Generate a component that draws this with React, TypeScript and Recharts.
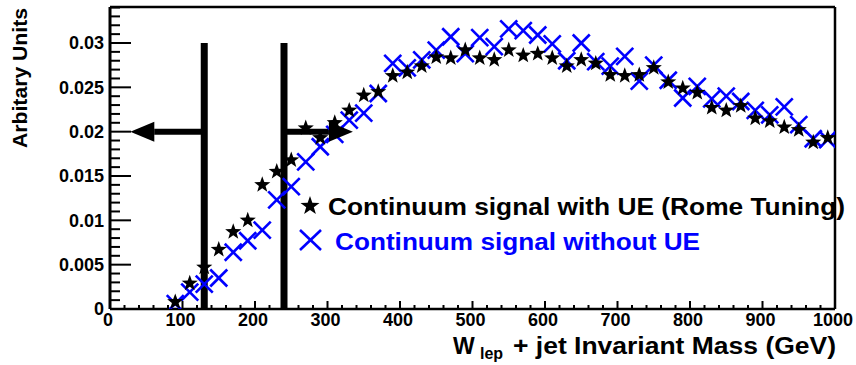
import React from 'react';
import { ScatterChart, Scatter, XAxis, YAxis, ReferenceLine, ReferenceDot, Legend } from 'recharts';

// Bin centres of the W_lep + jet invariant-mass histogram (GeV)
const masses = [
  90, 110, 130, 150, 170, 190, 210, 230, 250, 270, 290, 310, 330, 350, 370, 390,
  410, 430, 450, 470, 490, 510, 530, 550, 570, 590, 610, 630, 650, 670, 690, 710,
  730, 750, 770, 790, 810, 830, 850, 870, 890, 910, 930, 950, 970, 990,
];

// Normalised distribution, continuum signal with underlying event (Rome tuning)
const withUE = [
  0.0008, 0.0029, 0.0047, 0.0067, 0.0087, 0.0100, 0.0140, 0.0155, 0.0168, 0.0204,
  0.0193, 0.0210, 0.0224, 0.0241, 0.0245, 0.0263, 0.0267, 0.0274, 0.0284, 0.0283,
  0.0292, 0.0283, 0.0281, 0.0292, 0.0286, 0.0288, 0.0283, 0.0274, 0.0281, 0.0277,
  0.0264, 0.0263, 0.0264, 0.0272, 0.0256, 0.0249, 0.0244, 0.0227, 0.0224, 0.0229,
  0.0215, 0.0212, 0.0205, 0.0202, 0.0188, 0.0193,
];

// Normalised distribution, continuum signal without underlying event
const withoutUE = [
  0.0006, 0.0019, 0.0028, 0.0035, 0.0064, 0.0077, 0.0089, 0.0123, 0.0138, 0.0166,
  0.0183, 0.0197, 0.0213, 0.0221, 0.0243, 0.0277, 0.0272, 0.0281, 0.0292, 0.0307,
  0.0288, 0.0306, 0.0296, 0.0316, 0.0314, 0.0309, 0.0299, 0.0280, 0.0300, 0.0279,
  0.0274, 0.0285, 0.0257, 0.0275, 0.0258, 0.0238, 0.0251, 0.0237, 0.0240, 0.0234,
  0.0224, 0.0219, 0.0228, 0.0208, 0.0192, 0.0191,
];

const seriesNames = [
  'Continuum signal with UE (Rome Tuning)',
  'Continuum signal without UE',
];

// Axis ranges and tick positions
const X_MIN = 0;
const X_MAX = 1000;
const Y_MAX = 0.03406;
const xTicks = Array.from({ length: 51 }, (_, i) => i * 20);
const yTicks = Array.from({ length: 35 }, (_, i) => Number((i * 0.001).toFixed(3)));

// Mass-window cuts drawn as vertical bars with arrows
const cutLow = 130;
const cutHigh = 240;
const cutTop = 0.03;
const arrowLevel = 0.02;
const arrowLeftTip = 28;
const arrowLeftBase = 61;
const arrowRightTip = 335;
const arrowRightBase = 302;

const FONT = '"Liberation Sans", Arial, Helvetica, sans-serif';
const BLUE = '#0000ff';

const withUEData = masses.map((m, i) => ({ mass: m, value: withUE[i] }));
const withoutUEData = masses.map((m, i) => ({ mass: m, value: withoutUE[i] }));

const starPoints = (cx: number, cy: number, R: number, r: number) => {
  const pts: string[] = [];
  for (let i = 0; i < 10; i++) {
    const a = -Math.PI / 2 + (i * Math.PI) / 5;
    const rad = i % 2 === 0 ? R : r;
    pts.push(`${(cx + rad * Math.cos(a)).toFixed(2)},${(cy + rad * Math.sin(a)).toFixed(2)}`);
  }
  return pts.join(' ');
};

const StarShape = (props: any) => {
  const { cx, cy } = props;
  if (cx == null || cy == null) return null;
  return <polygon points={starPoints(cx, cy, 8.5, 3.5)} fill="#000" />;
};

const CrossShape = (props: any) => {
  const { cx, cy } = props;
  if (cx == null || cy == null) return null;
  const h = 8.5;
  return (
    <g stroke={BLUE} strokeWidth={2.6}>
      <line x1={cx - h} y1={cy - h} x2={cx + h} y2={cy + h} />
      <line x1={cx - h} y1={cy + h} x2={cx + h} y2={cy - h} />
    </g>
  );
};

const XTick = (props: any) => {
  const { x, y, payload } = props;
  const v = payload.value;
  const major = v % 100 === 0;
  return (
    <g>
      <line x1={x} x2={x} y1={y} y2={y - (major ? 8 : 4)} stroke="#000" strokeWidth={2} />
      {major && (
        <text
          x={x - 2}
          y={y + 17}
          textAnchor="middle"
          fontFamily={FONT}
          fontWeight="bold"
          fontSize={18}
          fill="#000"
        >
          {v}
        </text>
      )}
    </g>
  );
};

const YTick = (props: any) => {
  const { x, y, payload } = props;
  const v = payload.value;
  const major = Math.round(v * 1000) % 5 === 0;
  return (
    <g>
      <line x1={x} x2={x + (major ? 21 : 10)} y1={y} y2={y} stroke="#000" strokeWidth={2} />
      {major && (
        <text
          x={x - 6}
          y={y}
          dy="0.36em"
          textAnchor="end"
          fontFamily={FONT}
          fontWeight="bold"
          fontSize={18}
          fill="#000"
        >
          {v === 0 ? '0' : String(v)}
        </text>
      )}
    </g>
  );
};

const XTitle = () => (
  <g fontFamily={FONT} fontWeight="bold" fill="#000">
    <text x={453} y={354} fontSize={23}>W</text>
    <text x={480} y={359} fontSize={16}>lep</text>
    <text x={513} y={354} fontSize={23} textLength={323} lengthAdjust="spacingAndGlyphs">
      + jet Invariant Mass (GeV)
    </text>
  </g>
);

const YTitle = () => (
  <text
    transform="translate(27,78) rotate(-90)"
    textAnchor="middle"
    fontFamily={FONT}
    fontWeight="bold"
    fontSize={20}
    fill="#000"
    textLength={140}
    lengthAdjust="spacingAndGlyphs"
  >
    Arbitary Units
  </text>
);

const LegendBox = () => (
  <svg width={556} height={70} style={{ display: 'block', overflow: 'visible' }}>
    <polygon points={starPoints(10, 16, 10, 4)} fill="#000" />
    <text
      x={28}
      y={25}
      fontFamily={FONT}
      fontWeight="bold"
      fontSize={23}
      fill="#000"
      textLength={517}
      lengthAdjust="spacingAndGlyphs"
    >
      {seriesNames[0]}
    </text>
    <g stroke={BLUE} strokeWidth={2.6}>
      <line x1={0} y1={40} x2={21} y2={60} />
      <line x1={0} y1={60} x2={21} y2={40} />
    </g>
    <text
      x={35}
      y={60}
      fontFamily={FONT}
      fontWeight="bold"
      fontSize={23}
      fill={BLUE}
      textLength={365}
      lengthAdjust="spacingAndGlyphs"
    >
      {seriesNames[1]}
    </text>
  </svg>
);

const ArrowLeft = (props: any) => {
  const { cx, cy } = props;
  return <polygon points={`${cx},${cy} ${cx + 24},${cy - 10} ${cx + 24},${cy + 10}`} fill="#000" />;
};

const ArrowRight = (props: any) => {
  const { cx, cy } = props;
  return <polygon points={`${cx},${cy} ${cx - 24},${cy - 10} ${cx - 24},${cy + 10}`} fill="#000" />;
};

export default function App() {
  return (
    <div style={{ position: 'absolute', left: 0, top: 0, width: 856, height: 365, background: '#fff' }}>
      <ScatterChart width={856} height={365} margin={{ top: 7, right: 21, left: 0, bottom: 0 }}>
        <XAxis
          type="number"
          dataKey="mass"
          domain={[X_MIN, X_MAX]}
          ticks={xTicks}
          interval={0}
          allowDataOverflow
          height={56}
          tickSize={0}
          tickMargin={0}
          tickLine={false}
          axisLine={{ stroke: '#000', strokeWidth: 2.5 }}
          tick={XTick}
          label={XTitle}
        />
        <YAxis
          type="number"
          dataKey="value"
          domain={[0, Y_MAX]}
          ticks={yTicks}
          interval={0}
          allowDataOverflow
          width={110}
          tickSize={0}
          tickMargin={0}
          tickLine={false}
          axisLine={{ stroke: '#000', strokeWidth: 3 }}
          tick={YTick}
          label={YTitle}
        />
        <ReferenceLine y={Y_MAX} stroke="#000" strokeWidth={2.5} />
        <ReferenceLine x={X_MAX} stroke="#000" strokeWidth={2.5} />
        <Scatter
          name={seriesNames[1]}
          data={withoutUEData}
          fill={BLUE}
          shape={CrossShape}
          isAnimationActive={false}
        />
        <Scatter
          name={seriesNames[0]}
          data={withUEData}
          fill="#000"
          shape={StarShape}
          isAnimationActive={false}
        />
        <ReferenceLine
          segment={[{ x: cutLow, y: 0 }, { x: cutLow, y: cutTop }]}
          stroke="#000"
          strokeWidth={7}
        />
        <ReferenceLine
          segment={[{ x: cutHigh, y: 0 }, { x: cutHigh, y: cutTop }]}
          stroke="#000"
          strokeWidth={7}
        />
        <ReferenceLine
          segment={[{ x: arrowLeftBase, y: arrowLevel }, { x: cutLow, y: arrowLevel }]}
          stroke="#000"
          strokeWidth={6}
        />
        <ReferenceLine
          segment={[{ x: cutHigh, y: arrowLevel }, { x: arrowRightBase, y: arrowLevel }]}
          stroke="#000"
          strokeWidth={6}
        />
        <ReferenceDot x={arrowLeftTip} y={arrowLevel} r={10} shape={ArrowLeft} />
        <ReferenceDot x={arrowRightTip} y={arrowLevel} r={10} shape={ArrowRight} />
        <Legend
          layout="horizontal"
          verticalAlign="middle"
          align="center"
          width={556}
          wrapperStyle={{ left: 300, top: 190, width: 556, height: 70 }}
          content={() => <LegendBox />}
        />
      </ScatterChart>
    </div>
  );
}
